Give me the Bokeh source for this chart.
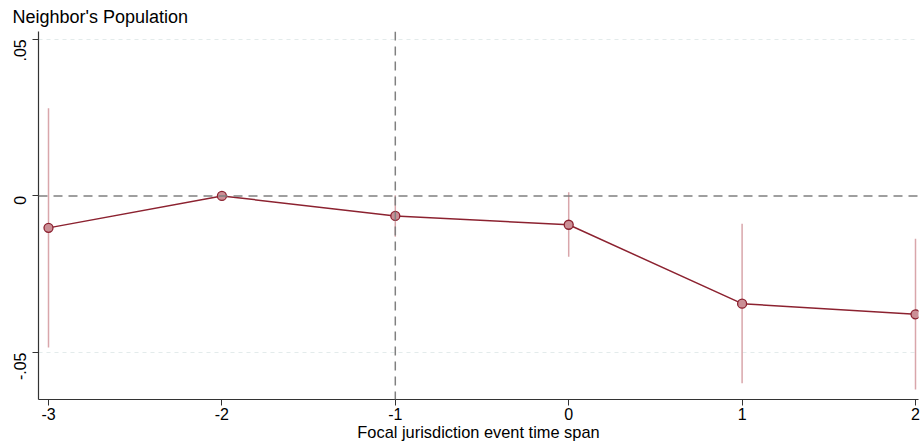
from bokeh.plotting import figure
from bokeh.models import Span, FixedTicker, Range1d, CustomJSTickFormatter
from bokeh.embed import file_html
from bokeh.resources import INLINE
import math

# Data
event_time = [-3, -2, -1, 0, 1, 2]
coef = [-0.0102, 0.0, -0.0064, -0.0092, -0.0344, -0.0378]
ci_low = [-0.0484, 0.0, -0.0130, -0.0194, -0.0598, -0.0618]
ci_high = [0.0280, 0.0, 0.0002, 0.0012, -0.0089, -0.0137]

x_ticks = [-3, -2, -1, 0, 1, 2]
x_tick_labels = ["-3", "-2", "-1", "0", "1", "2"]
y_ticks = [-0.05, 0, 0.05]
y_tick_labels = ["-.05", "0", ".05"]

title_text = "Neighbor's Population"
x_label = "Focal jurisdiction event time span"

FONT = "Liberation Sans"
DARK = "#8C2230"

p = figure(width=920, height=446, output_backend="svg", toolbar_location=None,
           x_range=Range1d(-3.0577, 2.0173), y_range=Range1d(-0.065, 0.0525),
           min_border_left=38, min_border_right=2, min_border_bottom=47, min_border_top=30,
           title=title_text)

p.title.text_font = FONT
p.title.text_font_size = "18px"
p.title.text_font_style = "normal"
p.title.text_color = "black"
p.title.align = "left"
p.title.offset = -26
p.title.standoff = 9

p.outline_line_color = None
p.background_fill_color = "white"
p.border_fill_color = "white"

# grids
p.xgrid.visible = False
p.ygrid.ticker = FixedTicker(ticks=[-0.05, 0.05])
p.ygrid.grid_line_color = "#E3EBEB"
p.ygrid.grid_line_dash = "4 4"
p.ygrid.grid_line_width = 1

# reference lines
p.add_layout(Span(location=0, dimension="width", line_color="#808080",
                  line_dash="9 6", line_width=1.5))
p.add_layout(Span(location=-1, dimension="height", line_color="#808080",
                  line_dash="9 6", line_width=1.5))

# CIs
p.segment(x0=event_time, y0=ci_low, x1=event_time, y1=ci_high,
          line_color="#D9A6AB", line_width=1.5)
# line + markers
p.line(event_time, coef, line_color=DARK, line_width=1.5)
p.scatter(event_time, coef, size=9, fill_color="#CB8F96", line_color=DARK, line_width=1.3)

# axes
p.xaxis.ticker = FixedTicker(ticks=x_ticks)
p.xaxis.major_label_overrides = {t: s for t, s in zip(x_ticks, x_tick_labels)}
p.xaxis.axis_label = x_label
p.xaxis.axis_label_text_font = FONT
p.xaxis.axis_label_text_font_size = "16.4px"
p.xaxis.axis_label_text_font_style = "normal"
p.xaxis.axis_label_standoff = 0
p.xaxis.major_label_text_font = FONT
p.xaxis.major_label_text_font_size = "16px"
p.xaxis.major_label_standoff = 2

p.yaxis.ticker = FixedTicker(ticks=y_ticks)
p.yaxis.formatter = CustomJSTickFormatter(
    args=dict(tv=y_ticks, lv=y_tick_labels),
    code="""
for (let i = 0; i < tv.length; i++) {
  if (Math.abs(tick - tv[i]) < 1e-9) return lv[i];
}
return "";
""")
p.yaxis.major_label_orientation = math.pi / 2
p.yaxis.major_label_text_font = FONT
p.yaxis.major_label_text_font_size = "16px"
p.yaxis.major_label_standoff = 12

for ax in (p.xaxis[0], p.yaxis[0]):
    ax.axis_line_color = "#333333"
    ax.axis_line_width = 1.2
    ax.major_tick_line_color = "#333333"
    ax.major_tick_out = 6
    ax.major_tick_in = 0
    ax.minor_tick_line_color = None
    ax.major_label_text_color = "black"
    ax.axis_label_text_color = "black"

open("out.html", "w").write(file_html(p, INLINE))
